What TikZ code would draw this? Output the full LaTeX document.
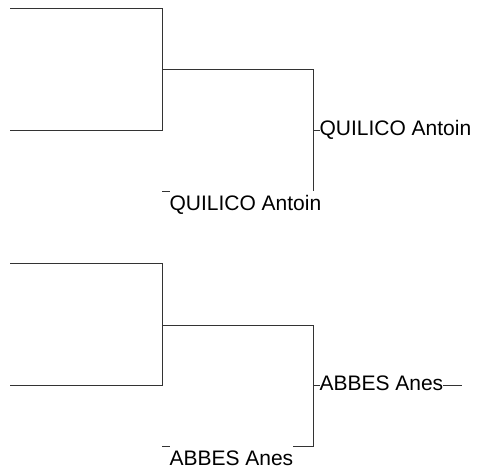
\documentclass[tikz,border=0pt]{standalone}
\usepackage{fontspec}
\setmainfont{Liberation Sans}
\begin{document}
\begin{tikzpicture}[x=1pt,y=-1pt,line width=1pt,draw=black!80,
		lbl/.style={fill=white,inner sep=0pt,text height=20pt,text depth=4.5pt,font=\fontsize{21}{25}\selectfont}]
	\useasboundingbox (0,0) rectangle (478,473);
	\foreach \dy/\who [count=\i] in {0/QUILICO Antoin,255/ABBES Anes}{
		\begin{scope}[yshift=-\dy pt]
			\coordinate (tl\i) at (10,8.5);
			\coordinate (tr\i) at (162,8.5);
			\coordinate (bl\i) at (10,130.5);
			\coordinate (br\i) at (162,130.5);
			\coordinate (m\i) at (162,70);
			\coordinate (mr\i) at (313,70);
			\coordinate (ur\i) at (313,130.5);
			\coordinate (ue\i) at (462,130.5);
			\coordinate (lr\i) at (313,191.5);
			\coordinate (ll\i) at (162,191.5);
			\draw (tl\i) -- (tr\i) -- (br\i) -- (bl\i);
			\draw (m\i) -- (mr\i) -- (lr\i) -- (ll\i);
			\draw (ur\i) -- (ue\i);
			\node[lbl,anchor=base west] (up\i) at (319,135.5) {\who};
			\node[lbl,anchor=base west] (lo\i) at (169,210.5) {\who};
		\end{scope}
	}
\end{tikzpicture}
\end{document}
